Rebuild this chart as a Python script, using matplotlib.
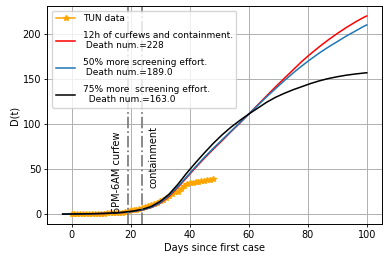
import matplotlib
matplotlib.use("Agg")
import matplotlib.pyplot as plt

# observed deaths (TUN data), one value per day since first case
data_days = list(range(0, 49))
data_deaths = [0, 0, 0, 0, 0, 0, 0, 0, 0, 0, 0, 0, 1, 1, 1, 1, 1, 1, 2, 3,
               4, 5, 5, 6, 7, 8, 9, 10, 11, 12, 14, 16, 18, 20, 22, 24, 25, 28, 31, 33,
               35, 35, 36, 36, 37, 37, 38, 38, 39]

# model curves
model_days = [-3, 0, 3, 6, 9, 12, 15, 18, 21, 24, 27, 30, 33, 36, 39, 42, 45, 48, 51,
              54, 57, 60, 63, 66, 69, 72, 75, 78, 81, 84, 87, 90, 93, 96, 99, 100]
curfew_12h = [0, 0.1, 0.2, 0.3, 0.5, 0.8, 1.2, 1.9, 3, 4.6, 7.3, 12, 19.5, 29.5, 40.5, 51.5,
              62, 72, 81.5, 91.5, 101, 111, 121, 131, 141, 150.5, 160, 169.5, 178, 186,
              193.5, 200.5, 207, 213, 218.5, 220]
screen_50 = [0, 0.1, 0.2, 0.3, 0.5, 0.8, 1.2, 1.9, 3, 4.7, 7.5, 12.5, 20.5, 30.5, 41.5, 52.5,
             63, 73, 82.5, 92, 101.5, 111, 120.5, 130, 139, 148, 156.5, 164.5, 172, 179,
             185.5, 191.5, 197.5, 203, 208.5, 210]
screen_75 = [0, 0.1, 0.2, 0.4, 0.6, 0.9, 1.4, 2.2, 3.5, 5.3, 8.5, 14, 22, 33, 45.5, 57,
             68, 78.5, 88, 96.5, 104, 111, 117.5, 124, 129.5, 134, 138, 141.5, 145, 148,
             150.5, 152.5, 154.2, 155.5, 156.6, 156.9]

curfew_day = 19
containment_day = 24

fig = plt.figure(figsize=(3.89, 2.62), dpi=100)
ax = fig.add_axes([0.122, 0.145, 0.860, 0.832])

ax.plot(data_days, data_deaths, "*-", color="orange", lw=1.1, ms=4, label="TUN data")
ax.plot(model_days, curfew_12h, color="red", lw=1.1,
        label="12h of curfews and containment.\n Death num.=228")
ax.plot(model_days, screen_50, color="tab:blue", lw=1.1,
        label="50% more screening effort.\n Death num.=189.0")
ax.plot(model_days, screen_75, color="black", lw=1.1,
        label="75% more  screening effort.\n  Death num.=163.0")

ax.axvline(curfew_day, color="gray", ls="-.", lw=1.3)
ax.axvline(containment_day, color="gray", ls="-.", lw=1.3)
ax.text(15.3, 1, "6PM-6AM curfew", rotation=90, fontsize=7, ha="center", va="bottom")
ax.text(27.8, 29, "containment", rotation=90, fontsize=7, ha="center", va="bottom")

ax.grid(True, color="#b0b0b0", lw=0.7)
ax.set_xlabel("Days since first case", fontsize=7, labelpad=2)
ax.set_ylabel("D(t)", fontsize=7, labelpad=2)
ax.tick_params(labelsize=7, length=2.5, width=0.6, pad=2)
for s in ax.spines.values():
    s.set_linewidth(0.7)
ax.legend(loc="upper left", fontsize=6.5, handlelength=2.2, labelspacing=0.85,
          borderpad=0.4, framealpha=0.8)

fig.savefig("out.png", dpi=100)
